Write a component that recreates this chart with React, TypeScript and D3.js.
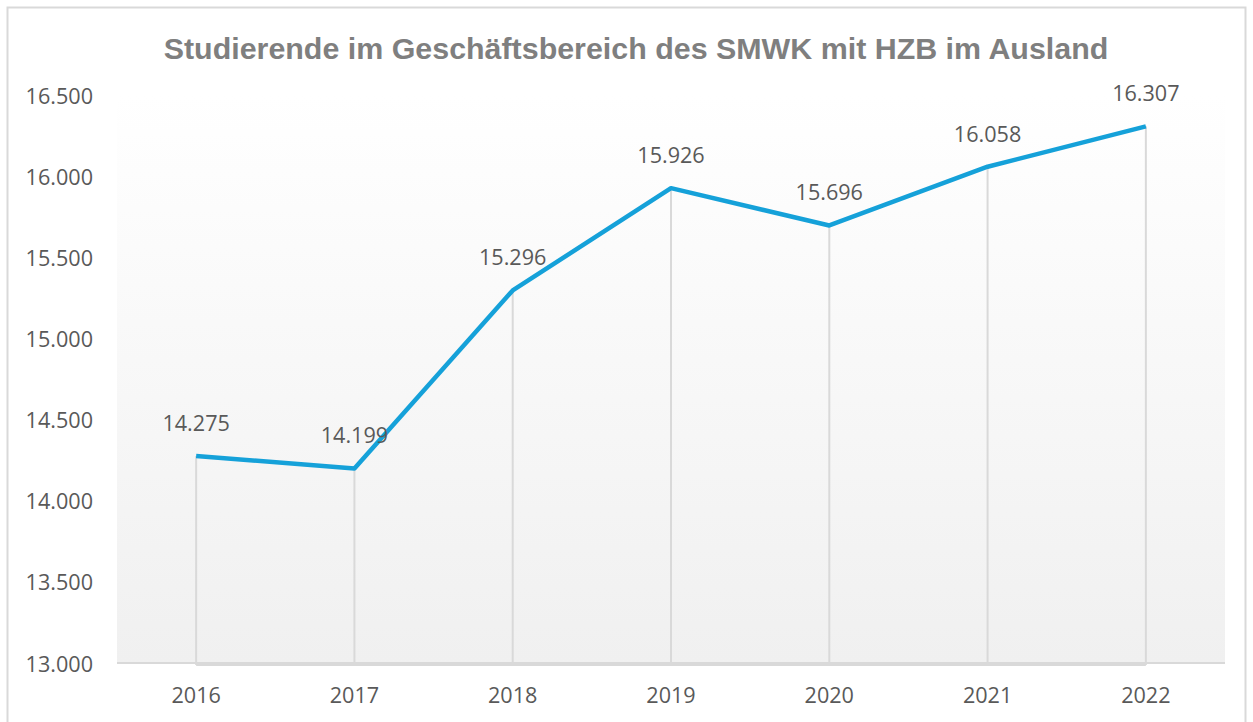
import React from "react";
import * as d3 from "d3";

const title = "Studierende im Geschäftsbereich des SMWK mit HZB im Ausland";
const years = ["2016", "2017", "2018", "2019", "2020", "2021", "2022"];
const values = [14275, 14199, 15296, 15926, 15696, 16058, 16307];
const yTicks = [13000, 13500, 14000, 14500, 15000, 15500, 16000, 16500];

const W = 1253;
const H = 722;
const left = 117;
const right = 1225;
const top = 95;
const bottom = 663;

const fmt = (v: number) => d3.format(",")(v).replace(/,/g, ".");

export default function App() {
  const x = d3.scaleBand<string>().domain(years).range([left, right]);
  const y = d3.scaleLinear().domain([13000, 16500]).range([bottom, top]);
  const cx = (yr: string) => (x(yr) as number) + x.bandwidth() / 2;
  const line = d3
    .line<number>()
    .x((_, i) => cx(years[i]))
    .y((d) => y(d));
  const numFont = "'Open Sans', 'Noto Sans', sans-serif";
  return (
    <svg
      width={W}
      height={H}
      style={{ position: "absolute", left: 0, top: 0, background: "#fff" }}
    >
      <defs>
        <linearGradient id="bg" x1="0" y1="0" x2="0" y2="1">
          <stop offset="0" stopColor="#ffffff" />
          <stop offset="1" stopColor="#f0f0f0" />
        </linearGradient>
      </defs>
      <rect x={7.5} y={7.5} width={1238} height={730} fill="#fff" stroke="#d9d9d9" strokeWidth={2} />
      <text
        x={636}
        y={59}
        textAnchor="middle"
        fontFamily="'Liberation Sans', Arial, sans-serif"
        fontWeight="bold"
        fontSize={30.4}
        fill="#7f7f7f"
      >
        {title}
      </text>
      <rect x={left} y={top} width={right - left} height={bottom - top} fill="url(#bg)" />
      {values.map((v, i) => (
        <line
          key={"d" + i}
          x1={cx(years[i])}
          x2={cx(years[i])}
          y1={y(v)}
          y2={bottom + 2}
          stroke="#d9d9d9"
          strokeWidth={2}
        />
      ))}
      <line x1={left} x2={right} y1={bottom} y2={bottom} stroke="#d9d9d9" strokeWidth={2} />
      <line
        x1={cx(years[0])}
        x2={cx(years[years.length - 1])}
        y1={bottom + 2}
        y2={bottom + 2}
        stroke="#d9d9d9"
        strokeWidth={2}
      />
      {yTicks.map((t) => (
        <text
          key={t}
          x={93}
          y={y(t) + 8.5}
          textAnchor="end"
          fontFamily={numFont}
          fontSize={21.6}
          fill="#595959"
        >
          {fmt(t)}
        </text>
      ))}
      {years.map((yr) => (
        <text
          key={yr}
          x={cx(yr)}
          y={703}
          textAnchor="middle"
          fontFamily={numFont}
          fontSize={21.6}
          fill="#595959"
        >
          {yr}
        </text>
      ))}
      <path
        d={line(values) as string}
        fill="none"
        stroke="#15a1d9"
        strokeWidth={4.5}
        strokeLinejoin="round"
      />
      {values.map((v, i) => (
        <text
          key={"l" + i}
          x={cx(years[i])}
          y={y(v) - 25}
          textAnchor="middle"
          fontFamily={numFont}
          fontSize={21.6}
          fill="#595959"
        >
          {fmt(v)}
        </text>
      ))}
    </svg>
  );
}
